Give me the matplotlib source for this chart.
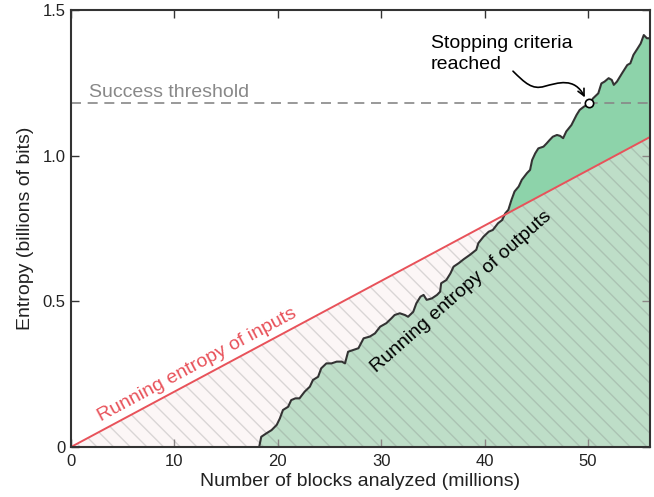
import numpy as np
import matplotlib.pyplot as plt
from matplotlib.path import Path
from matplotlib.patches import FancyArrowPatch

plt.rcParams['font.family'] = ['Liberation Sans', 'DejaVu Sans']
plt.rcParams['hatch.linewidth'] = 1.0

# running entropy of outputs (billions of bits) vs blocks analyzed (millions)
blocks_out = [18.2, 18.4, 18.9, 19.4, 19.9, 20.2, 20.5, 21.0, 21.3, 21.7, 22.1, 22.6,
              23.1, 23.4, 23.9, 24.2, 24.7, 25.2, 25.7, 26.2, 26.5, 26.8, 27.3, 27.8,
              28.3, 28.9, 29.4, 29.9, 30.5, 31.0, 31.3, 31.8, 32.3, 32.6, 33.1, 33.4,
              33.8, 34.1, 34.4, 34.9, 35.4, 35.7, 35.8, 36.3, 36.7, 37.0, 37.5, 38.0,
              38.6, 39.2, 39.4, 39.9, 40.4, 40.8, 41.3, 41.7, 42.0, 42.3, 42.6, 42.9,
              43.3, 43.6, 44.1, 44.4, 44.6, 44.9, 45.2, 45.7, 46.0, 46.3, 46.6, 47.0,
              47.3, 47.6, 47.9, 48.4, 48.9, 49.2, 49.6, 50.1, 50.5, 51.0, 51.3, 51.6,
              52.0, 52.3, 52.5, 52.8, 53.3, 53.8, 54.1, 54.4, 54.8, 55.1, 55.4, 55.7, 56.0]
entropy_out = [0.0, 0.035, 0.047, 0.058, 0.076, 0.098, 0.127, 0.138, 0.161, 0.167, 0.167, 0.19,
               0.207, 0.23, 0.241, 0.27, 0.287, 0.287, 0.293, 0.293, 0.287, 0.327, 0.333, 0.339,
               0.373, 0.379, 0.39, 0.413, 0.425, 0.442, 0.453, 0.459, 0.453, 0.447, 0.464, 0.493,
               0.516, 0.522, 0.505, 0.51, 0.522, 0.533, 0.562, 0.573, 0.596, 0.619, 0.631, 0.645,
               0.66, 0.677, 0.70, 0.722, 0.739, 0.745, 0.768, 0.779, 0.802, 0.814, 0.848, 0.877,
               0.894, 0.917, 0.94, 0.951, 0.985, 1.008, 1.025, 1.031, 1.042, 1.054, 1.065, 1.071,
               1.068, 1.06, 1.083, 1.105, 1.14, 1.157, 1.168, 1.178, 1.197, 1.214, 1.248, 1.254,
               1.266, 1.26, 1.243, 1.254, 1.283, 1.311, 1.317, 1.346, 1.368, 1.385, 1.414, 1.403, 1.403]

# running entropy of inputs (straight line)
blocks_in = [0, 56]
entropy_in = [0, 1.064]

threshold = 1.18
stop_point = (50.1, 1.18)

x_ticks = [0, 10, 20, 30, 40, 50]
y_ticks = [0, 0.5, 1.0, 1.5]
y_ticklabels = ['0', '0.5', '1.0', '1.5']

fig = plt.figure(figsize=(6.54, 4.97), dpi=100)
ax = fig.add_axes([71/654, 1 - 447/497, 579/654, 437/497])

green = '#8dd3aa'
red = '#e8525a'
dark = '#333333'

ax.fill_between(blocks_out, 0, entropy_out, color=green, linewidth=0, zorder=1)
ax.fill_between(blocks_in, 0, entropy_in, facecolor=(0.98, 0.93, 0.93, 0.45),
                edgecolor=(0.45, 0.45, 0.45, 0.25), hatch='\\\\', linewidth=0, zorder=2)
ax.plot(blocks_out, entropy_out, color=dark, lw=1.5, zorder=4)
ax.plot(blocks_in, entropy_in, color=red, lw=1.4, zorder=4)
ax.axhline(threshold, color='#888888', lw=1.2, dashes=(6, 4), zorder=3)
ax.plot(*stop_point, 'o', ms=6, mfc='white', mec='black', mew=1.2, zorder=6)

ax.set_xlim(0, 56)
ax.set_ylim(0, 1.5)
ax.set_xticks(x_ticks)
ax.set_yticks(y_ticks)
ax.set_yticklabels(y_ticklabels)
ax.tick_params(direction='in', length=6, width=1, colors=dark, labelsize=12,
               top=True, right=True, labelcolor='#222222', pad=5)
ax.tick_params(axis='y', pad=4)
for s in ax.spines.values():
    s.set_color(dark)
    s.set_linewidth(1.5)
    s.set_zorder(7)

ax.set_xlabel('Number of blocks analyzed (millions)', fontsize=14, color='#222222', labelpad=3)
ax.set_ylabel('Entropy (billions of bits)', fontsize=14, color='#222222', labelpad=6)

ax.text(1.7, threshold + 0.006, 'Success threshold', fontsize=14, color='#888888',
        ha='left', va='bottom')

# angle of the inputs line in pixel space
p0 = ax.transData.transform((0, 0))
p1 = ax.transData.transform((56, 1.064))
ang_in = np.degrees(np.arctan2(p1[1] - p0[1], p1[0] - p0[0]))
ax.text(12.4, 0.269, 'Running entropy of inputs', fontsize=14, color=red,
        rotation=ang_in, rotation_mode='anchor', ha='center', va='baseline', zorder=5)
ax.text(37.7, 0.534, 'Running entropy of outputs', fontsize=14, color='black',
        rotation=41.5, rotation_mode='anchor', ha='center', va='center', zorder=5)

ax.text(34.8, 1.414, 'Stopping criteria\nreached', fontsize=14, color='black',
        ha='left', va='top', linespacing=1.3, zorder=5)

verts = [(42.75, 1.29), (43.9, 1.25), (44.6, 1.225), (45.8, 1.238),
         (47.1, 1.25), (48.7, 1.27), (49.7, 1.2)]
codes = [Path.MOVETO, Path.CURVE4, Path.CURVE4, Path.CURVE4,
         Path.CURVE4, Path.CURVE4, Path.CURVE4]
arrow = FancyArrowPatch(path=Path(verts, codes), arrowstyle='->', mutation_scale=12,
                        color='black', lw=1.2, zorder=6)
ax.add_patch(arrow)

fig.savefig('out.png', dpi=100)
